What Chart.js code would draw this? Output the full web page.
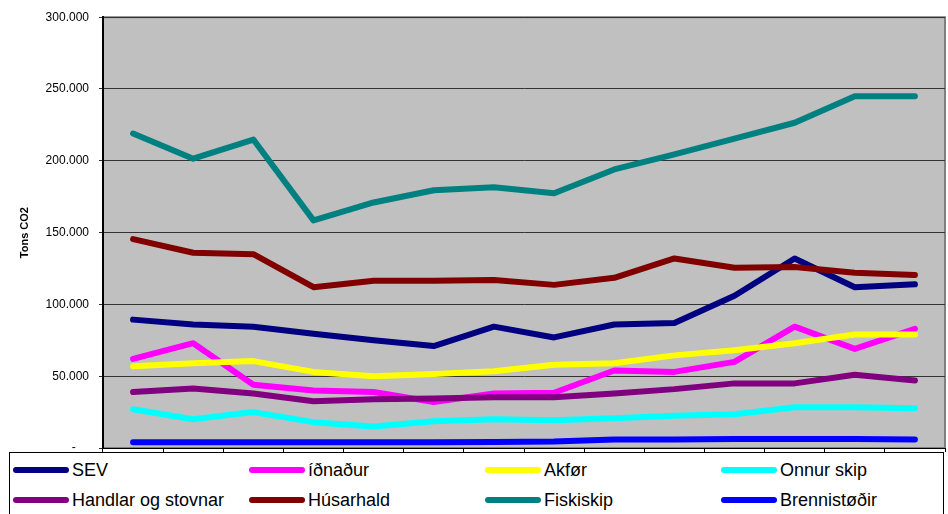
<!DOCTYPE html>
<html>
<head>
<meta charset="utf-8">
<script src="https://cdn.jsdelivr.net/npm/chart.js@4/dist/chart.umd.min.js"></script>
<style>
    html, body { margin: 0; padding: 0; background: #fff; }
    #wrap { position: relative; width: 948px; height: 514px; }
    #legend {
        position: absolute; left: 9px; top: 452px; width: 935px; height: 70px;
        border: 1px solid #000; background: #fff; box-sizing: border-box;
        font-family: "Liberation Sans", Arial, sans-serif; font-size: 18px; color: #000;
    }
    .item { position: absolute; height: 22px; line-height: 22px; white-space: nowrap; }
    .item span.swatch {
        position: absolute; left: 0; top: 8px; width: 56px; height: 6px; border-radius: 3px;
    }
    .item span.label { position: absolute; left: 59px; top: 0; }
</style>
</head>
<body>
<div id="wrap">
    <canvas id="chart" width="948" height="514"></canvas>
    <div id="legend"></div>
</div>
<script>
// 14 years on the x axis (no labels shown in the original)
const years = ['1', '2', '3', '4', '5', '6', '7', '8', '9', '10', '11', '12', '13', '14'];

const seriesNames = ['SEV', 'íðnaður', 'Akfør', 'Onnur skip', 'Handlar og stovnar', 'Húsarhald', 'Fiskiskip', 'Brennistøðir'];
const seriesColors = ['#000080', '#FF00FF', '#FFFF00', '#00FFFF', '#800080', '#800000', '#008080', '#0000FF'];

const sev = [89400, 86000, 84500, 79500, 75000, 71000, 84500, 77000, 86000, 87000, 106000, 132000, 112000, 114000];
const idnadur = [62000, 73000, 44000, 40000, 39000, 32000, 38000, 38500, 54000, 53000, 60000, 84500, 69000, 83000];
const akfor = [57000, 59000, 60500, 53000, 50000, 51500, 53500, 58000, 59000, 64500, 68000, 73000, 79000, 79000];
const onnurSkip = [27000, 20000, 25000, 18000, 15000, 18700, 20000, 19400, 20800, 22500, 23500, 28400, 28400, 27700];
const handlar = [39000, 41500, 38000, 32500, 34000, 34500, 35300, 35300, 38000, 41000, 45000, 45000, 51000, 47000];
const husarhald = [145500, 136000, 135000, 112000, 116400, 116400, 117000, 113600, 118500, 132000, 125500, 126000, 122000, 120500];
const fiskiskip = [219000, 201500, 214800, 158500, 171000, 179500, 181600, 177400, 194000, 204500, 215500, 226500, 245000, 245000];
const brennistodir = [4000, 4000, 4000, 4000, 4000, 4000, 4200, 4500, 6000, 6000, 6200, 6300, 6300, 6000];

const seriesValues = [sev, idnadur, akfor, onnurSkip, handlar, husarhald, fiskiskip, brennistodir];

// Gray plot background with a thin gray frame
const plotBackground = {
    id: 'plotBackground',
    beforeDraw(chart) {
        const { ctx, chartArea: a } = chart;
        ctx.save();
        ctx.fillStyle = '#C0C0C0';
        ctx.fillRect(a.left, a.top, a.right - a.left, a.bottom - a.top);
        ctx.strokeStyle = '#808080';
        ctx.lineWidth = 2;
        ctx.strokeRect(a.left, a.top, a.right - a.left, a.bottom - a.top);
        ctx.restore();
    }
};

function formatTick(value) {
    if (value === 0) return '-    ';
    return value.toLocaleString('en-US').replace(/,/g, '.');
}

const ctx = document.getElementById('chart').getContext('2d');
new Chart(ctx, {
    type: 'line',
    data: {
        labels: years,
        datasets: seriesNames.map((name, i) => ({
            label: name,
            data: seriesValues[i],
            borderColor: seriesColors[i],
            backgroundColor: seriesColors[i],
            borderWidth: 6,
            borderCapStyle: 'round',
            borderJoinStyle: 'round',
            pointRadius: 0,
            tension: 0,
            fill: false,
            order: seriesNames.length - i // later series on top
        }))
    },
    options: {
        responsive: false,
        animation: false,
        layout: { padding: { top: 15, right: 3, left: 0, bottom: 62 } },
        plugins: {
            legend: { display: false },
            tooltip: { enabled: false }
        },
        scales: {
            x: {
                offset: true,
                grid: {
                    offset: true,
                    drawOnChartArea: false,
                    color: '#000',
                    tickLength: 4
                },
                border: { color: '#000', width: 1 },
                ticks: { display: false },
                afterFit(scale) { scale.height = 4; }
            },
            y: {
                min: 0,
                max: 300000,
                ticks: {
                    stepSize: 50000,
                    padding: 10,
                    color: '#000',
                    font: { family: '"Liberation Sans", Arial, sans-serif', size: 12 },
                    callback: (v) => formatTick(v)
                },
                grid: {
                    color: '#333',
                    lineWidth: 1,
                    tickLength: 4
                },
                border: { color: '#000', width: 2 },
                title: {
                    display: true,
                    text: 'Tons CO2',
                    color: '#000',
                    font: { family: '"Liberation Sans", Arial, sans-serif', size: 11, weight: 'bold' },
                    padding: { top: 18, bottom: 0 }
                },
                afterFit(scale) { scale.width = 103; }
            }
        }
    },
    plugins: [plotBackground]
});

// Legend: 2 rows x 4 columns, as in the original
const legend = document.getElementById('legend');
seriesNames.forEach((name, i) => {
    const col = i % 4;
    const row = Math.floor(i / 4);
    const item = document.createElement('div');
    item.className = 'item';
    item.style.left = (3 + col * 236) + 'px';
    item.style.top = (6 + row * 30) + 'px';
    item.innerHTML = '<span class="swatch" style="background:' + seriesColors[i] + '"></span>' +
        '<span class="label">' + name + '</span>';
    legend.appendChild(item);
});
</script>
</body>
</html>
